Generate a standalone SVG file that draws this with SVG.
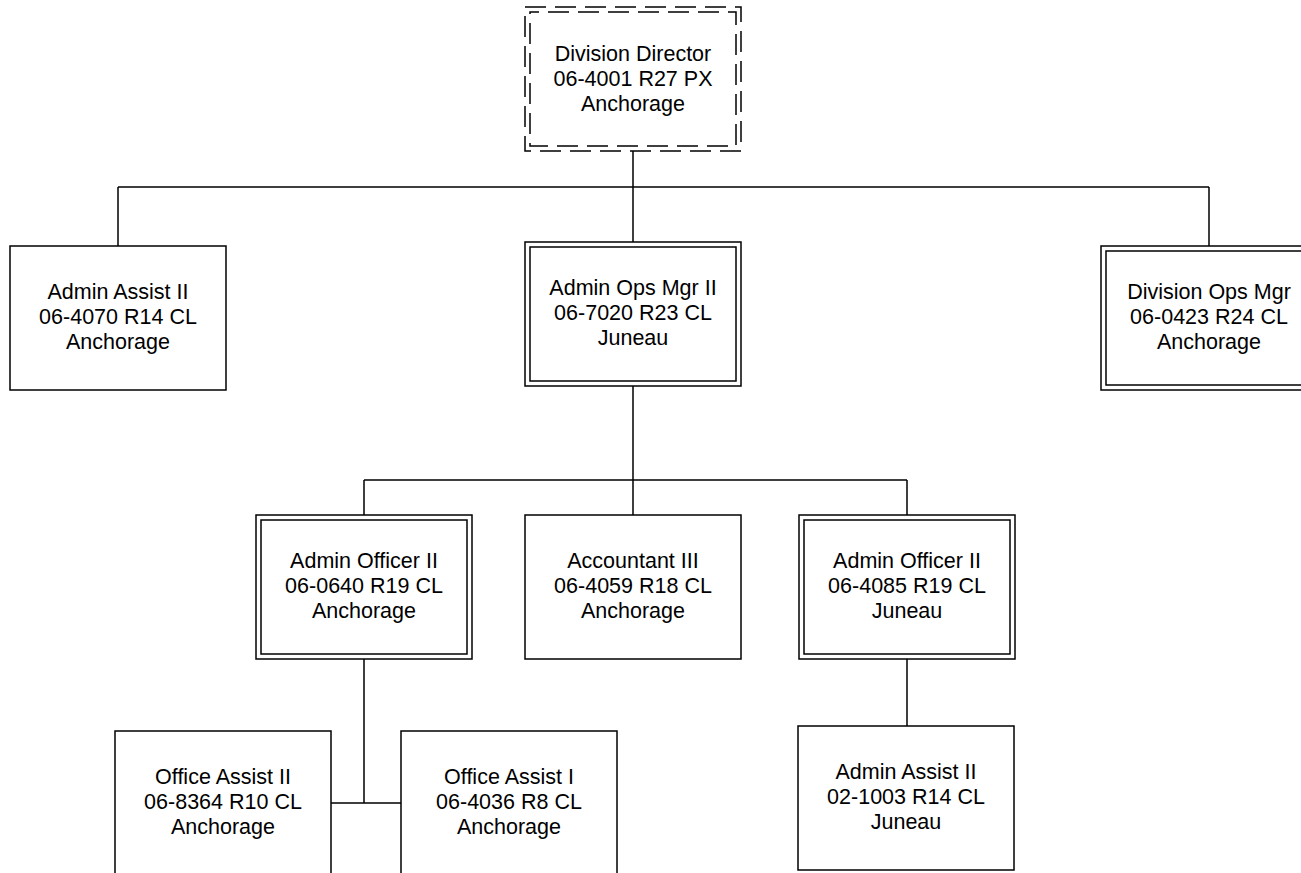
<svg xmlns="http://www.w3.org/2000/svg" width="1301" height="873" viewBox="0 0 1301 873">
<style>
.box{fill:#fff;stroke:#000;stroke-width:1.5}
.in{fill:none;stroke:#000;stroke-width:1.5}
.dash{fill:none;stroke:#000;stroke-width:1.5;stroke-dasharray:21 9}
.ln{fill:none;stroke:#000;stroke-width:1.5}
text{font-family:"Liberation Sans",Arial,sans-serif;font-size:21.5px;fill:#000;text-anchor:middle}
</style>
<rect width="1301" height="873" fill="#fff"/>
<g id="connectors">
<path class="ln" d="M118 187H1209M118 187V246M633 151V242M1209 187V246"/>
<path class="ln" d="M633 386V515M364 480H907M364 480V515M907 480V515"/>
<path class="ln" d="M364 659V803M331 803H401M907 659V726"/>
</g>
<g id="n-division-director">
<rect x="525" y="7" width="216" height="144" fill="#fff"/>
<rect class="dash" x="525" y="7" width="216" height="144"/>
<rect class="dash" x="530" y="12" width="206" height="134" stroke-dashoffset="12"/>
<text x="633" y="61">Division Director</text>
<text x="633" y="86">06-4001 R27 PX</text>
<text x="633" y="111">Anchorage</text>
</g>
<g id="n-admin-assist-anc">
<rect class="box" x="10" y="246" width="216" height="144"/>
<text x="118" y="299">Admin Assist II</text>
<text x="118" y="324">06-4070 R14 CL</text>
<text x="118" y="349">Anchorage</text>
</g>
<g id="n-admin-ops-mgr">
<rect class="box" x="525" y="242" width="216" height="144"/>
<rect class="in" x="530" y="247" width="206" height="134"/>
<text x="633" y="295">Admin Ops Mgr II</text>
<text x="633" y="320">06-7020 R23 CL</text>
<text x="633" y="345">Juneau</text>
</g>
<g id="n-division-ops-mgr">
<rect class="box" x="1101" y="246" width="216" height="144"/>
<rect class="in" x="1106" y="251" width="206" height="134"/>
<text x="1209" y="299">Division Ops Mgr</text>
<text x="1209" y="324">06-0423 R24 CL</text>
<text x="1209" y="349">Anchorage</text>
</g>
<g id="n-admin-officer-anc">
<rect class="box" x="256" y="515" width="216" height="144"/>
<rect class="in" x="261" y="520" width="206" height="134"/>
<text x="364" y="568">Admin Officer II</text>
<text x="364" y="593">06-0640 R19 CL</text>
<text x="364" y="618">Anchorage</text>
</g>
<g id="n-accountant">
<rect class="box" x="525" y="515" width="216" height="144"/>
<text x="633" y="568">Accountant III</text>
<text x="633" y="593">06-4059 R18 CL</text>
<text x="633" y="618">Anchorage</text>
</g>
<g id="n-admin-officer-jun">
<rect class="box" x="799" y="515" width="216" height="144"/>
<rect class="in" x="804" y="520" width="206" height="134"/>
<text x="907" y="568">Admin Officer II</text>
<text x="907" y="593">06-4085 R19 CL</text>
<text x="907" y="618">Juneau</text>
</g>
<g id="n-office-assist-2">
<rect class="box" x="115" y="731" width="216" height="144"/>
<text x="223" y="784">Office Assist II</text>
<text x="223" y="809">06-8364 R10 CL</text>
<text x="223" y="834">Anchorage</text>
</g>
<g id="n-office-assist-1">
<rect class="box" x="401" y="731" width="216" height="144"/>
<text x="509" y="784">Office Assist I</text>
<text x="509" y="809">06-4036 R8 CL</text>
<text x="509" y="834">Anchorage</text>
</g>
<g id="n-admin-assist-jun">
<rect class="box" x="798" y="726" width="216" height="144"/>
<text x="906" y="779">Admin Assist II</text>
<text x="906" y="804">02-1003 R14 CL</text>
<text x="906" y="829">Juneau</text>
</g>
</svg>
